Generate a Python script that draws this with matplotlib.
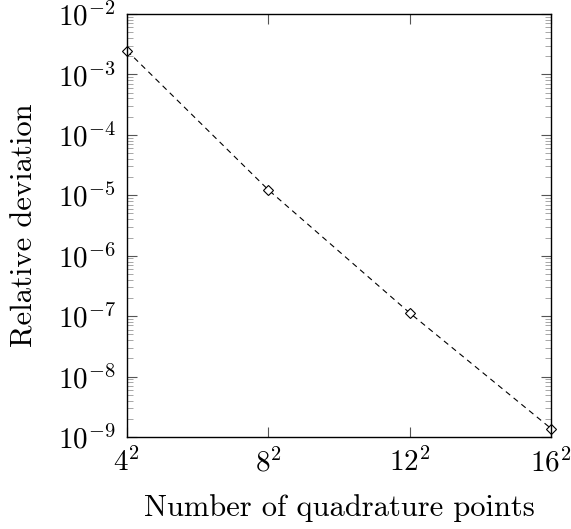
import numpy as np
import matplotlib
matplotlib.use("Agg")
import matplotlib.pyplot as plt
from matplotlib.ticker import LogLocator, FixedLocator, NullFormatter

plt.rcParams["mathtext.fontset"] = "cm"
plt.rcParams["font.family"] = "serif"
plt.rcParams["font.serif"] = ["cmr10", "DejaVu Serif"]
plt.rcParams["axes.formatter.use_mathtext"] = True

# quadrature order n (n^2 points) and relative deviation
order = [4, 8, 12, 16]
deviation = [2.47e-3, 1.23e-5, 1.13e-7, 1.38e-9]
xtick_labels = [r"$4^2$", r"$8^2$", r"$12^2$", r"$16^2$"]

fig = plt.figure(figsize=(5.71, 5.29), dpi=100)
ax = fig.add_axes([0.2224, 0.174, 0.7426, 0.7995])

ax.plot(order, deviation, color="black", linestyle=(0, (5, 4)), linewidth=0.8,
        marker="D", markersize=4.6, markerfacecolor="white",
        markeredgecolor="black", markeredgewidth=0.8, clip_on=False)

ax.set_yscale("log")
ax.set_xlim(4, 16)
ax.set_ylim(1e-9, 1e-2)
ax.xaxis.set_major_locator(FixedLocator(order))
ax.set_xticklabels(xtick_labels)
ax.yaxis.set_major_locator(LogLocator(base=10, numticks=20))
ax.yaxis.set_minor_locator(LogLocator(base=10, subs=np.arange(2, 10), numticks=100))
ax.yaxis.set_minor_formatter(NullFormatter())

ax.tick_params(axis="both", which="both", direction="in", top=True, right=True,
               labelsize=21, color="#555555")
ax.tick_params(axis="both", which="major", length=7, width=0.8, pad=8)
ax.tick_params(axis="y", which="minor", length=4, width=0.6, color="#999999")
ax.xaxis.set_minor_locator(FixedLocator([]))

for s in ax.spines.values():
    s.set_linewidth(1.0)

ax.set_xlabel("Number of quadrature points", fontsize=22, labelpad=12)
ax.set_ylabel("Relative deviation", fontsize=22, labelpad=14)

fig.savefig("out.png", dpi=100)
